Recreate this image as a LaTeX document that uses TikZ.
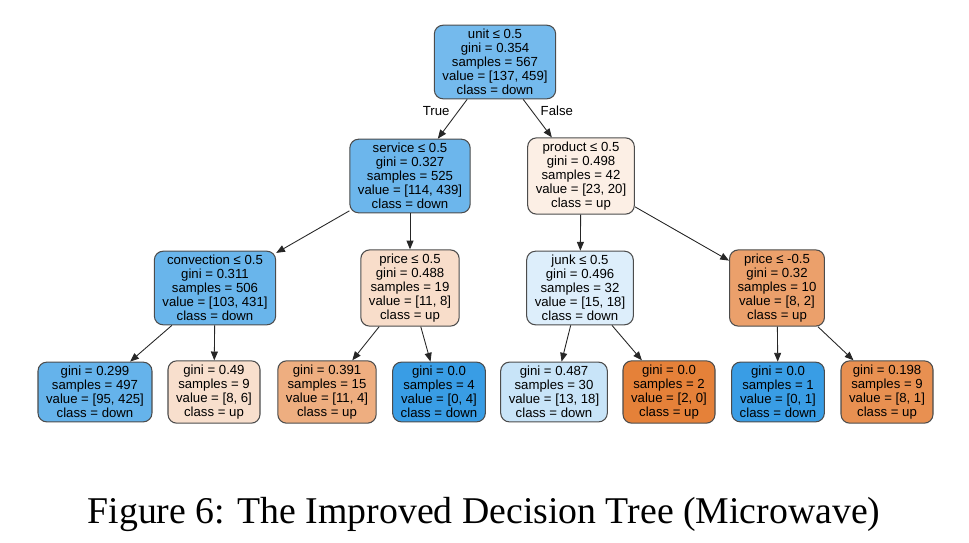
\documentclass[tikz,border=0pt]{standalone}
\usepackage{fontspec}
\setmainfont{Liberation Serif}
\newfontfamily\arialfont{Liberation Sans}
\usetikzlibrary{arrows.meta}

\definecolor{down}{RGB}{57,157,229}
\definecolor{up}{RGB}{229,129,57}

\begin{document}
\begin{tikzpicture}[x=0.02cm, y=-0.02cm,
		main/.style={draw=black!70, line width=0.6pt, rounded corners=5pt, align=center,
			font=\arialfont\fontsize{7.5}{7.9}\selectfont, inner xsep=4.6pt, inner ysep=2.4pt},
		arr/.style={draw=black!85, line width=0.5pt, -{Triangle[length=5pt,width=4pt]}},
		lab/.style={font=\arialfont\fontsize{7.5}{7.9}\selectfont}]
		\useasboundingbox (0,0) rectangle (969,542);

		% root and first split
		\node[main, fill=down!70] (1) at (495,62) {unit ≤ 0.5\\gini = 0.354\\samples = 567\\value = [137, 459]\\class = down};
		\node[main, fill=down!74] (2) at (410,176) {service ≤ 0.5\\gini = 0.327\\samples = 525\\value = [114, 439]\\class = down};
		\node[main, fill=up!13] (3) at (581,176) {product ≤ 0.5\\gini = 0.498\\samples = 42\\value = [23, 20]\\class = up};

		% second level
		\node[main, fill=down!76] (4) at (215,288) {convection ≤ 0.5\\gini = 0.311\\samples = 506\\value = [103, 431]\\class = down};
		\node[main, fill=up!27] (5) at (410,288) {price ≤ 0.5\\gini = 0.488\\samples = 19\\value = [11, 8]\\class = up};
		\node[main, fill=down!17] (6) at (580,288) {junk ≤ 0.5\\gini = 0.496\\samples = 32\\value = [15, 18]\\class = down};
		\node[main, fill=up!75] (7) at (777,288) {price ≤ -0.5\\gini = 0.32\\samples = 10\\value = [8, 2]\\class = up};

		% leaves
		\node[main, fill=down!78] (8) at (95,392) {gini = 0.299\\samples = 497\\value = [95, 425]\\class = down};
		\node[main, fill=up!25] (9) at (214,392) {gini = 0.49\\samples = 9\\value = [8, 6]\\class = up};
		\node[main, fill=up!64] (10) at (327,392) {gini = 0.391\\samples = 15\\value = [11, 4]\\class = up};
		\node[main, fill=down] (11) at (439,392) {gini = 0.0\\samples = 4\\value = [0, 4]\\class = down};
		\node[main, fill=down!28] (12) at (554,392) {gini = 0.487\\samples = 30\\value = [13, 18]\\class = down};
		\node[main, fill=up] (13) at (669,392) {gini = 0.0\\samples = 2\\value = [2, 0]\\class = up};
		\node[main, fill=down] (14) at (778,392) {gini = 0.0\\samples = 1\\value = [0, 1]\\class = down};
		\node[main, fill=up!88] (15) at (887,392) {gini = 0.198\\samples = 9\\value = [8, 1]\\class = up};

		\draw[arr] (1) -- node[lab, pos=0.3, left=1.5pt] {True} (2);
		\draw[arr] (1) -- node[lab, pos=0.3, right=1.5pt] {False} (3);
		\draw[arr] (2) -- (4);
		\draw[arr] (2) -- (5);
		\draw[arr] (3) -- (6);
		\draw[arr] (3) -- (7);
		\draw[arr] (4) -- (8);
		\draw[arr] (4) -- (9);
		\draw[arr] (5) -- (10);
		\draw[arr] (5) -- (11);
		\draw[arr] (6) -- (12);
		\draw[arr] (6) -- (13);
		\draw[arr] (7) -- (14);
		\draw[arr] (7) -- (15);

		\node[anchor=base, font=\fontsize{21.5}{24}\selectfont] (cap) at (484,523) {Figure 6: The Improved Decision Tree (Microwave)};
	\end{tikzpicture}
\end{document}
